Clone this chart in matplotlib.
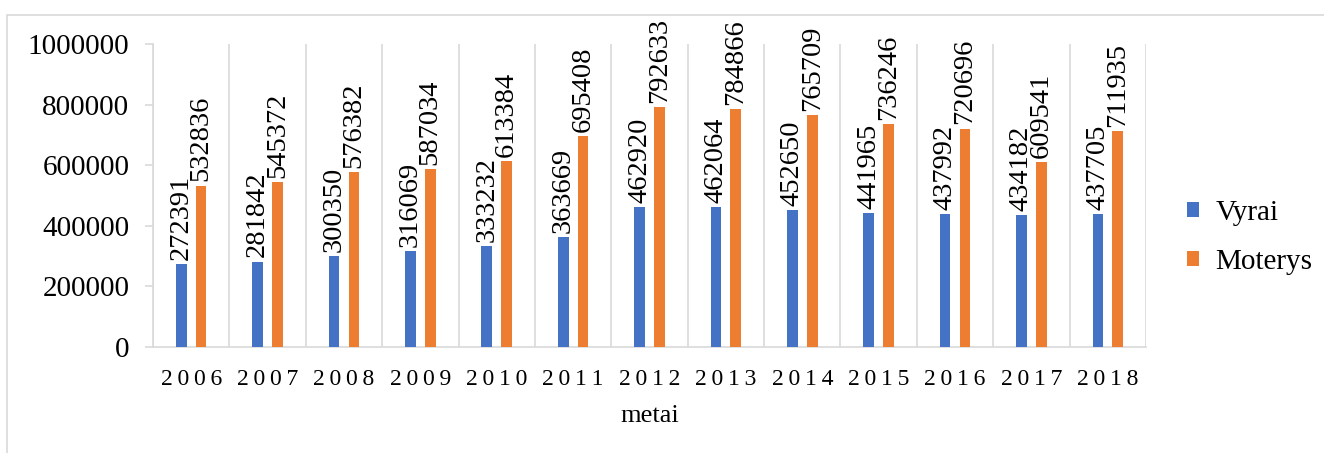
import numpy as np
import matplotlib
matplotlib.use("Agg")
import matplotlib.pyplot as plt
from matplotlib.patches import Rectangle

plt.rcParams['font.family'] = ['Liberation Serif', 'DejaVu Serif']

# Duomenys
metai = ['2006', '2007', '2008', '2009', '2010', '2011', '2012',
         '2013', '2014', '2015', '2016', '2017', '2018']
vyrai = [272391, 281842, 300350, 316069, 333232, 363669, 462920,
         462064, 452650, 441965, 437992, 434182, 437705]
moterys = [532836, 545372, 576382, 587034, 613384, 695408, 792633,
           784866, 765709, 736246, 720696, 609541, 711935]

fig = plt.figure(figsize=(13.24, 4.53), dpi=100)
ax = fig.add_axes([153/1324, 1 - 347/453, (1146 - 153)/1324, (347 - 44)/453])

# rėmelis aplink diagramą
fig.patches.append(Rectangle((7/1324, -0.1), 1.2, 1 - 15/453 + 0.1,
                             transform=fig.transFigure, fill=False,
                             edgecolor='#D9D9D9', linewidth=1.2))

x = np.arange(len(metai))
w = 0.14
b1 = ax.bar(x - 0.13, vyrai, w, color='#4472C4', label='Vyrai', zorder=3)
b2 = ax.bar(x + 0.13, moterys, w, color='#ED7D31', label='Moterys', zorder=3)

for bars, vals in ((b1, vyrai), (b2, moterys)):
    for r, v in zip(bars, vals):
        ax.annotate(str(v), (r.get_x() + r.get_width()/2, v),
                    xytext=(0, 3), textcoords='offset points',
                    ha='center', va='bottom', rotation=90, fontsize=20.5)

ax.set_xlim(-0.5, len(metai) - 0.5)
ax.set_ylim(0, 1000000)
ax.set_yticks(np.arange(0, 1000001, 200000))
ax.set_yticklabels([str(v) for v in range(0, 1000001, 200000)])

# vertikalios tinklelio linijos tarp kategorijų
for b in np.arange(-0.5, len(metai), 1.0):
    ax.axvline(b, color='#D9D9D9', linewidth=1.2, zorder=1)

ax.set_xticks(x)
ax.set_xticklabels(['\u2009'.join(m) for m in metai])
ax.tick_params(axis='x', length=0, labelsize=17, pad=16)
ax.tick_params(axis='y', length=6, color='#D9D9D9', width=1.2, labelsize=21, pad=11)

for s in ['top', 'right']:
    ax.spines[s].set_visible(False)
for s in ['left', 'bottom']:
    ax.spines[s].set_color('#D9D9D9')
    ax.spines[s].set_linewidth(1.2)

ax.set_xlabel('metai', fontsize=19, labelpad=11)

fig.legend(handles=[b1, b2], loc='center left', bbox_to_anchor=(1187/1324, 0.476),
           frameon=False, fontsize=21, handlelength=0.42, handleheight=0.42,
           handletextpad=0.55, labelspacing=0.78, borderaxespad=0, borderpad=0)

fig.savefig('out.png', dpi=100)
